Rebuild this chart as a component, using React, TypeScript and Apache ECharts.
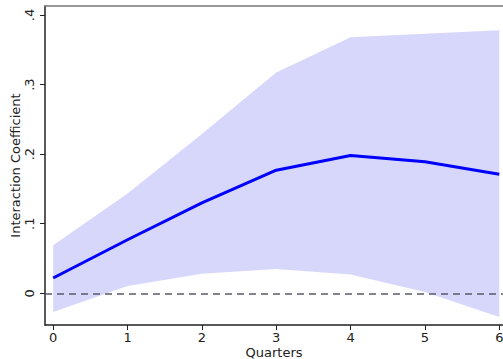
import React, { useEffect, useRef } from "react";
import * as echarts from "echarts";

// Impulse response of the interaction coefficient with its confidence band
const quarters = [0, 1, 2, 3, 4, 5, 6];
const coefficient = [0.022, 0.077, 0.13, 0.177, 0.198, 0.189, 0.171];
const upperBound = [0.069, 0.1435, 0.229, 0.3175, 0.368, 0.373, 0.378];
const lowerBound = [-0.027, 0.0105, 0.028, 0.035, 0.027, 0.002, -0.034];
const yTicks = [0, 0.1, 0.2, 0.3, 0.4];
const yTickLabels = ["0", ".1", ".2", ".3", ".4"];

const FONT = "DejaVu Sans";

export default function App() {
  const ref = useRef<HTMLDivElement>(null);

  useEffect(() => {
    if (!ref.current) return;
    const chart = echarts.init(ref.current, null, { renderer: "svg" });

    const xMin = -0.11;
    const xMax = 6.05;
    const yMin = -0.0456;
    const yMax = 0.413;

    const bandRows = quarters.map((q, i) => [q, lowerBound[i], upperBound[i]]);

    chart.setOption({
      animation: false,
      grid: {
        left: 45,
        right: 0,
        top: 6,
        bottom: 34,
        containLabel: false,
        outerBoundsMode: "none",
      },
      xAxis: [
        {
          type: "value",
          min: xMin,
          max: xMax,
          name: "Quarters",
          nameLocation: "middle",
          nameGap: 20.5,
          nameMoveOverlap: false,
          nameTextStyle: { fontFamily: FONT, fontSize: 13, lineHeight: 13, color: "#222" },
          axisLine: { show: true, onZero: false, lineStyle: { color: "#222", width: 1.5 } },
          axisTick: {
            show: true,
            length: 5,
            lineStyle: { color: "#222", width: 1 },
            customValues: quarters,
          },
          axisLabel: {
            fontFamily: FONT,
            fontSize: 13,
            lineHeight: 13,
            color: "#222",
            margin: 6,
            customValues: quarters,
          },
          splitLine: { show: false },
        },
        {
          type: "value",
          position: "top",
          min: xMin,
          max: xMax,
          axisLine: { show: true, onZero: false, lineStyle: { color: "#777", width: 1.5 } },
          axisTick: { show: false },
          axisLabel: { show: false },
          splitLine: { show: false },
        },
      ],
      yAxis: {
        type: "value",
        min: yMin,
        max: yMax,
        name: "Interaction Coefficient",
        nameLocation: "middle",
        nameRotate: 90,
        nameGap: 23,
        nameMoveOverlap: false,
        nameTextStyle: { fontFamily: FONT, fontSize: 13, color: "#222" },
        axisLine: { show: true, onZero: false, lineStyle: { color: "#222", width: 1.5 } },
        axisTick: {
          show: true,
          length: 5,
          lineStyle: { color: "#222", width: 1 },
          customValues: yTicks,
        },
        axisLabel: {
          fontFamily: FONT,
          fontSize: 13,
          color: "#222",
          rotate: 90,
          margin: 9,
          customValues: yTicks,
          formatter: (v: number) => {
            const i = yTicks.findIndex((t) => Math.abs(t - v) < 1e-9);
            return i >= 0 ? yTickLabels[i] : "";
          },
        },
        splitLine: { show: false },
      },
      series: [
        {
          name: "band",
          type: "custom",
          data: bandRows,
          encode: { x: 0, y: [1, 2] },
          z: 1,
          renderItem: (params: any, api: any) => {
            if (params.dataIndex !== 0) return null;
            const upper = bandRows.map((r) => api.coord([r[0], r[2]]));
            const lower = bandRows.map((r) => api.coord([r[0], r[1]])).reverse();
            return {
              type: "polygon",
              shape: { points: upper.concat(lower) },
              style: { fill: "#d7d7fc", stroke: "none" },
            };
          },
        },
        {
          name: "zero",
          type: "line",
          data: [],
          markLine: {
            silent: true,
            symbol: "none",
            label: { show: false },
            lineStyle: { color: "#5a5a6a", type: [7, 5], width: 1.5 },
            data: [{ yAxis: 0 }],
          },
          z: 2,
        },
        {
          name: "coefficient",
          type: "line",
          data: quarters.map((q, i) => [q, coefficient[i]]),
          symbol: "none",
          lineStyle: { color: "#0000ff", width: 3 },
          z: 3,
        },
      ],
    });

    return () => chart.dispose();
  }, []);

  return (
    <div
      ref={ref}
      style={{ position: "fixed", left: 0, top: 0, width: 503, height: 359, background: "#fff" }}
    />
  );
}
